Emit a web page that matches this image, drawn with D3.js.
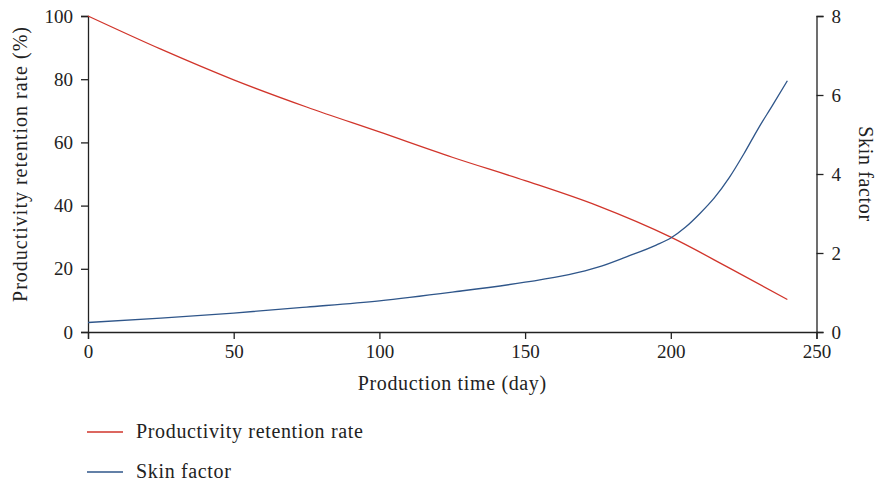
<!DOCTYPE html>
<html>
<head>
<meta charset="utf-8">
<script src="https://cdn.jsdelivr.net/npm/d3@7"></script>
<style>
  body { margin: 0; background: #fff; }
  svg text { font-family: "Liberation Serif", "DejaVu Serif", serif; fill: #222; }
</style>
</head>
<body>
<svg id="chart" width="876" height="483"></svg>
<script>
// production time (day)
let days = [0, 25, 50, 75, 100, 125, 150, 175, 200, 220, 240]
// productivity retention rate (%)
let retention = [100, 89.5, 79.8, 71.2, 63.3, 55.3, 47.9, 39.9, 30.0, 20.3, 10.3]

let skinDays = [0, 25, 50, 75, 100, 125, 150, 165, 175, 185, 195, 200, 205, 210, 215, 220, 225, 230, 235, 240]
let skin = [0.24, 0.35, 0.48, 0.63, 0.79, 1.01, 1.26, 1.45, 1.64, 1.91, 2.2, 2.38, 2.65, 3.0, 3.4, 3.9, 4.5, 5.15, 5.75, 6.36]

let xTicks = [0, 50, 100, 150, 200, 250]
let leftTicks = [0, 20, 40, 60, 80, 100]
let rightTicks = [0, 2, 4, 6, 8]

let seriesNames = ['Productivity retention rate', 'Skin factor']
let colors = ['#d1352b', '#2f568a']

let svg = d3.select('#chart')
let plotLeft = 88, plotRight = 816.5, plotTop = 16, plotBottom = 332

let x = d3.scaleLinear().domain([0, 250]).range([plotLeft, plotRight])
let yL = d3.scaleLinear().domain([0, 100]).range([plotBottom, plotTop])
let yR = d3.scaleLinear().domain([0, 8]).range([plotBottom, plotTop])

function styleAxis(g) {
  g.selectAll('path, line').attr('stroke', '#222').attr('stroke-width', 1.3)
  g.selectAll('text').style('font-size', '19px').attr('fill', '#222')
}

svg.append('g')
  .attr('transform', 'translate(0,' + plotBottom + ')')
  .call(d3.axisBottom(x).tickValues(xTicks).tickSizeOuter(0).tickSize(7).tickPadding(6))
  .call(styleAxis)

svg.append('g')
  .attr('transform', 'translate(' + plotLeft + ',0)')
  .call(d3.axisLeft(yL).tickValues(leftTicks).tickSizeOuter(0).tickSize(7).tickPadding(8))
  .call(styleAxis)

svg.append('g')
  .attr('transform', 'translate(' + plotRight + ',0)')
  .call(d3.axisRight(yR).tickValues(rightTicks).tickSizeOuter(0).tickSize(7).tickPadding(8))
  .call(styleAxis)

// lines
let retLine = d3.line().x((d, i) => x(days[i])).y(d => yL(d)).curve(d3.curveMonotoneX)
let skinLine = d3.line().x((d, i) => x(skinDays[i])).y(d => yR(d)).curve(d3.curveMonotoneX)

svg.append('path').datum(retention)
  .attr('d', retLine).attr('fill', 'none')
  .attr('stroke', colors[0]).attr('stroke-width', 1.3)

svg.append('path').datum(skin)
  .attr('d', skinLine).attr('fill', 'none')
  .attr('stroke', colors[1]).attr('stroke-width', 1.3)

// axis titles
svg.append('text')
  .attr('x', (plotLeft + plotRight) / 2).attr('y', 390)
  .attr('text-anchor', 'middle').style('font-size', '20px').style('letter-spacing', '0.65px')
  .text('Production time (day)')

svg.append('text')
  .attr('transform', 'translate(27,164) rotate(-90)')
  .attr('text-anchor', 'middle').style('font-size', '20px').style('letter-spacing', '1px')
  .text('Productivity retention rate (%)')

svg.append('text')
  .attr('transform', 'translate(859,' + (plotTop + plotBottom) / 2 + ') rotate(90)')
  .attr('text-anchor', 'middle').style('font-size', '20px').style('letter-spacing', '0.65px')
  .text('Skin factor')

// legend
let legend = svg.append('g')
seriesNames.forEach((name, i) => {
  let ly = 432 + i * 40
  legend.append('line')
    .attr('x1', 87).attr('x2', 123).attr('y1', ly).attr('y2', ly)
    .attr('stroke', colors[i]).attr('stroke-width', 1.3)
  legend.append('text')
    .attr('x', 136).attr('y', ly + 6)
    .style('font-size', '20px').style('letter-spacing', '0.65px')
    .text(name)
})
</script>
</body>
</html>
